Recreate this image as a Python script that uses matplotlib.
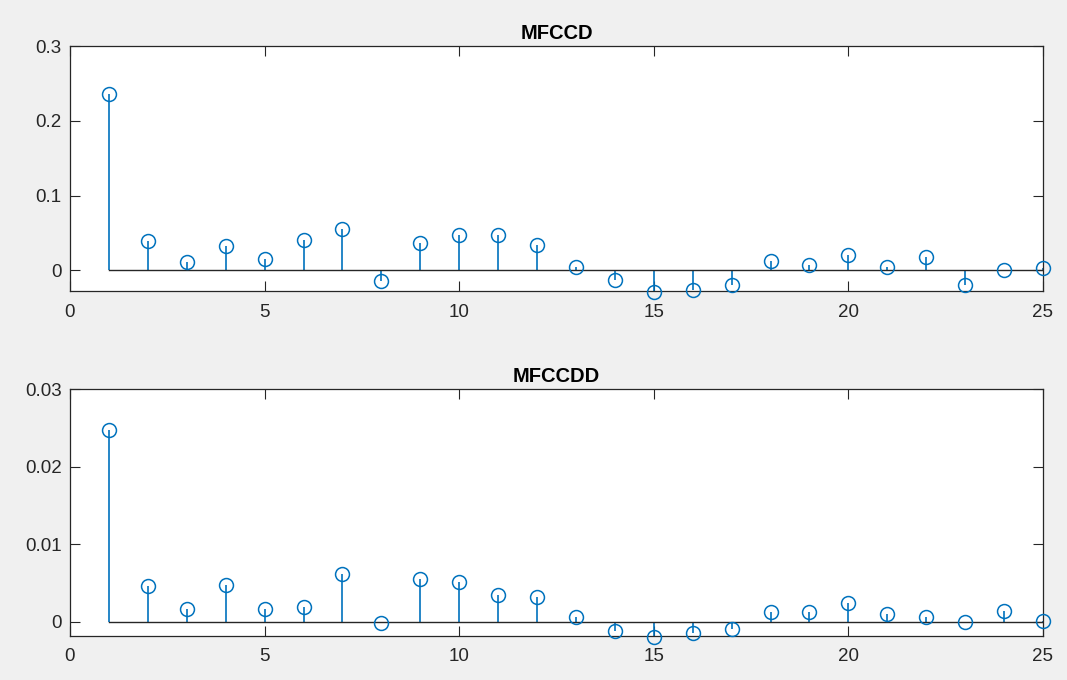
import matplotlib.pyplot as plt
import numpy as np

plt.rcParams['font.family'] = ['Liberation Sans', 'DejaVu Sans']

idx = np.arange(1, 26)

mfccd = [0.2365, 0.0387, 0.011, 0.033, 0.015, 0.040, 0.055, -0.0137, 0.036,
         0.047, 0.0476, 0.0333, 0.0045, -0.0133, -0.029, -0.026, -0.019,
         0.0125, 0.0076, 0.020, 0.0045, 0.0178, -0.019, 0.0, 0.003]

mfccdd = [0.02474, 0.00457, 0.0016, 0.0047, 0.0016, 0.00186, 0.0062, -0.0002,
          0.00555, 0.0051, 0.00344, 0.00315, 0.00056, -0.0012, -0.0019,
          -0.0014, -0.00095, 0.0012, 0.0013, 0.00245, 0.00095, 0.00056, 0.0,
          0.0014, 0.0001]

xticks = [0, 5, 10, 15, 20, 25]
yticks_top = [0, 0.1, 0.2, 0.3]
yticks_bot = [0, 0.01, 0.02, 0.03]

blue = '#0072BD'
dark = '#262626'

fig = plt.figure(figsize=(10.67, 6.8), dpi=100, facecolor='#f0f0f0')
ax1 = fig.add_axes([0.0656, 0.572, 0.9119, 0.3603])
ax2 = fig.add_axes([0.0656, 0.0651, 0.9119, 0.3624])


def stem_panel(ax, y, title, ylim, yticks, ylabels):
    ml, sl, bl = ax.stem(idx, y, linefmt='-', markerfmt='o', basefmt='-')
    plt.setp(sl, color=blue, linewidth=1.2)
    plt.setp(ml, markerfacecolor='none', markeredgecolor=blue,
             markersize=10, markeredgewidth=1.1, clip_on=False, zorder=4)
    plt.setp(bl, color=dark, linewidth=1.0)
    ax.set_xlim(0, 25)
    ax.set_ylim(*ylim)
    ax.set_xticks(xticks)
    ax.set_yticks(yticks)
    ax.set_yticklabels(ylabels)
    ax.set_title(title, fontsize=14.5, fontweight='bold', color='black', pad=5)
    ax.tick_params(direction='in', length=7, width=0.8, colors=dark,
                   labelsize=13.5, top=True, right=True, pad=6)
    ax.tick_params(axis='x', pad=9)
    for s in ax.spines.values():
        s.set_color(dark)
        s.set_linewidth(0.9)


stem_panel(ax1, mfccd, 'MFCCD', (-0.0277, 0.3), yticks_top,
           ['0', '0.1', '0.2', '0.3'])
stem_panel(ax2, mfccdd, 'MFCCDD', (-0.0018, 0.03), yticks_bot,
           ['0', '0.01', '0.02', '0.03'])

fig.savefig('out.png', dpi=100, facecolor=fig.get_facecolor())
